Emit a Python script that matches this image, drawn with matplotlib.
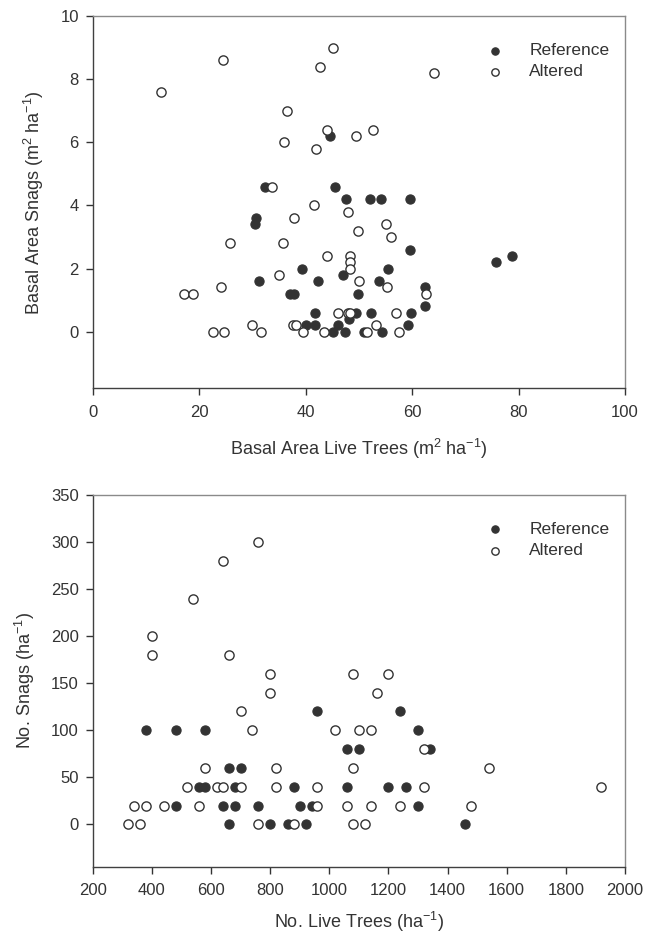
import matplotlib
matplotlib.use("Agg")
import matplotlib.pyplot as plt

plt.rcParams['font.family'] = ['Liberation Sans', 'DejaVu Sans']
plt.rcParams['mathtext.fontset'] = 'custom'
plt.rcParams['mathtext.rm'] = 'Liberation Sans'
plt.rcParams['mathtext.it'] = 'Liberation Sans'
plt.rcParams['mathtext.default'] = 'rm'

# ---- Top panel: basal area ----
ba_ref_x = [32.3, 44.6, 45.5, 47.6, 52.1, 54.1, 59.6, 30.6, 30.4, 39.4, 31.3, 42.4,
            37.0, 37.8, 41.7, 40.0, 41.7, 59.6, 75.8, 78.8, 55.4, 47.1, 53.8, 49.9,
            62.5, 62.5, 49.5, 52.3, 59.8, 48.2, 46.0, 59.3, 45.2, 47.4, 50.9, 54.3]
ba_ref_y = [4.6, 6.2, 4.6, 4.2, 4.2, 4.2, 4.2, 3.6, 3.4, 2.0, 1.6, 1.6,
            1.2, 1.2, 0.6, 0.2, 0.2, 2.6, 2.2, 2.4, 2.0, 1.8, 1.6, 1.2,
            1.4, 0.8, 0.6, 0.6, 0.6, 0.4, 0.2, 0.2, 0.0, 0.0, 0.0, 0.0]
ba_alt_x = [12.8, 24.4, 36.5, 36.0, 42.0, 44.0, 42.7, 45.1, 49.4, 52.6, 64.2, 33.7,
            41.5, 37.9, 25.7, 35.7, 44.0, 35.0, 24.1, 17.2, 18.8, 22.6, 24.7, 29.9,
            31.6, 37.6, 38.2, 39.6, 43.5, 48.0, 49.9, 55.1, 56.1, 48.4, 48.4, 48.4,
            50.1, 55.3, 62.7, 46.0, 47.9, 48.4, 56.9, 53.2, 51.6, 57.5]
ba_alt_y = [7.6, 8.6, 7.0, 6.0, 5.8, 6.4, 8.4, 9.0, 6.2, 6.4, 8.2, 4.6,
            4.0, 3.6, 2.8, 2.8, 2.4, 1.8, 1.4, 1.2, 1.2, 0.0, 0.0, 0.2,
            0.0, 0.2, 0.2, 0.0, 0.0, 3.8, 3.2, 3.4, 3.0, 2.4, 2.2, 2.0,
            1.6, 1.4, 1.2, 0.6, 0.6, 0.6, 0.6, 0.2, 0.0, 0.0]

# ---- Bottom panel: stem counts ----
n_ref_x = [380, 480, 580, 480, 560, 580, 660, 660, 640, 680, 680, 700, 760, 800, 880,
           860, 920, 900, 940, 960, 1240, 1300, 1060, 1100, 1340, 1060, 1200, 1260,
           1300, 1460]
n_ref_y = [100, 100, 100, 20, 40, 40, 60, 0, 20, 20, 40, 60, 20, 0, 40,
           0, 0, 20, 20, 120, 120, 100, 80, 80, 80, 40, 40, 40,
           20, 0]
n_alt_x = [320, 360, 340, 380, 440, 520, 560, 580, 620, 640, 700, 700, 740, 800, 800,
           760, 820, 820, 880, 960, 960, 400, 400, 540, 640, 760, 660, 1080, 1200,
           1160, 1020, 1100, 1140, 1320, 1080, 1540, 1320, 1920, 1060, 1140, 1240,
           1480, 1080, 1120]
n_alt_y = [0, 0, 20, 20, 20, 40, 20, 60, 40, 40, 40, 120, 100, 140, 160,
           0, 60, 40, 0, 20, 40, 200, 180, 240, 280, 300, 180, 160, 160,
           140, 100, 100, 100, 80, 60, 60, 40, 40, 20, 20, 20,
           20, 0, 0]

series_labels = ["Reference", "Altered"]
top_xticks = [0, 20, 40, 60, 80, 100]
top_yticks = [0, 2, 4, 6, 8, 10]
bot_xticks = [200, 400, 600, 800, 1000, 1200, 1400, 1600, 1800, 2000]
bot_yticks = [0, 50, 100, 150, 200, 250, 300, 350]

W, H = 646, 936
fig = plt.figure(figsize=(W / 100, H / 100), dpi=100)
ax1 = fig.add_axes([92.7 / W, 1 - 388.3 / H, (625 - 92.7) / W, (388.3 - 16.3) / H])
ax2 = fig.add_axes([92.7 / W, 1 - 866.7 / H, (625 - 92.7) / W, (866.7 - 495) / H])

FILL = '#333333'
TXT = '#333333'
ms = 44

def style(ax, xt, yt, xlim, ylim, xlabel, ylabel, xpad):
    ax.set_xlim(*xlim)
    ax.set_ylim(*ylim)
    ax.set_xticks(xt)
    ax.set_yticks(yt)
    ax.tick_params(direction='out', length=5, width=1, colors='#333333',
                   labelsize=12, labelcolor=TXT, top=False, right=False)
    ax.tick_params(axis='x', pad=7)
    ax.tick_params(axis='y', pad=5)
    for s in ['left', 'bottom']:
        ax.spines[s].set_color('#404040')
        ax.spines[s].set_linewidth(1.0)
    for s in ['top', 'right']:
        ax.spines[s].set_color('#8a8a8a')
        ax.spines[s].set_linewidth(1.0)
    ax.set_xlabel(xlabel, fontsize=13, color=TXT, labelpad=xpad)
    ax.set_ylabel(ylabel, fontsize=13, color=TXT, labelpad=10)
    leg = ax.legend(loc='upper right', frameon=False, fontsize=12.5,
                    bbox_to_anchor=(1.0, 0.97), handletextpad=1.0,
                    labelspacing=0.35, markerscale=0.8)
    for t in leg.get_texts():
        t.set_color(TXT)

ax1.scatter(ba_ref_x, ba_ref_y, s=ms, c=FILL, edgecolors=FILL, linewidths=0.8,
            label=series_labels[0], zorder=3)
ax1.scatter(ba_alt_x, ba_alt_y, s=ms, facecolors='white', edgecolors=FILL,
            linewidths=1.0, label=series_labels[1], zorder=3)
style(ax1, top_xticks, top_yticks, (0, 100), (-1.8, 10),
      r'Basal Area Live Trees (m$^{2}$ ha$^{-1}$)',
      r'Basal Area Snags (m$^{2}$ ha$^{-1}$)', 12)

ax2.scatter(n_ref_x, n_ref_y, s=ms, c=FILL, edgecolors=FILL, linewidths=0.8,
            label=series_labels[0], zorder=3)
ax2.scatter(n_alt_x, n_alt_y, s=ms, facecolors='white', edgecolors=FILL,
            linewidths=1.0, label=series_labels[1], zorder=3)
style(ax2, bot_xticks, bot_yticks, (200, 2000), (-45, 350),
      r'No. Live Trees (ha$^{-1}$)', r'No. Snags (ha$^{-1}$)', 8)

fig.savefig('out.png', dpi=100)
